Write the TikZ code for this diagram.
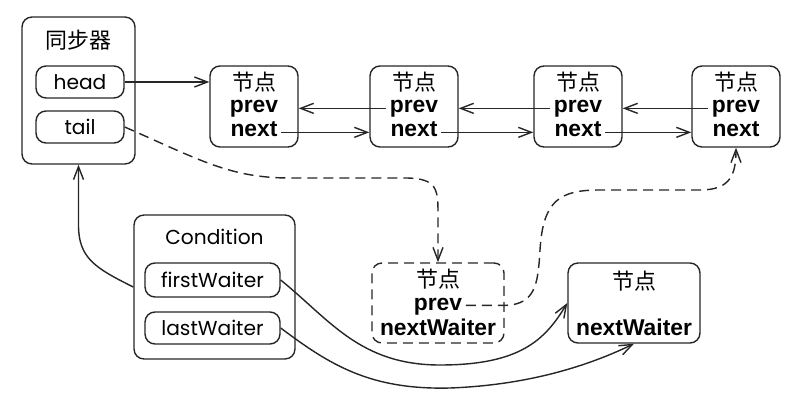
\documentclass[tikz,border=0pt]{standalone}
\usepackage{fontspec}
\setmainfont{Liberation Sans}
\newfontfamily\cjkfont{Noto Sans CJK SC}
\newfontfamily\geofont{Poppins}
\usetikzlibrary{shapes,arrows,arrows.meta,fit,positioning,calc}

\begin{document}
\begin{tikzpicture}[x=0.02cm,y=-0.02cm,% one unit is one pixel of the sketch
		every node/.style={
			align=center,	% so that "\\" works
			inner sep=0pt
		},
		box/.style={rectangle,rounded corners=2mm,draw=black!85,thick},
		wbox/.style={box,dash pattern=on 2mm off 1.2mm},
		hd/.style={font=\cjkfont\fontsize{12.5}{13}\selectfont},
		lbl/.style={font=\geofont\fontsize{11.5}{13}\selectfont},
		fld/.style={font=\bfseries\fontsize{13}{14}\selectfont,text height=1ex,text depth=0pt,anchor=base,inner xsep=2pt},
		wire/.style={->,thick,draw=black!85},
		dwire/.style={wire,dash pattern=on 2mm off 1.2mm},
		>={Straight Barb[length=2.6mm,width=2mm]}
	]
	\useasboundingbox (0,0) rectangle (812,402);
	% synchronizer with its two fields
	\node[box,minimum width=2.26cm,minimum height=2.94cm](S) at (78.5,90.5){};
	\node[hd](S0) at (78.5,40){同步器};
	\node[box,lbl,minimum width=1.76cm,minimum height=0.64cm](H) at (80,82){head};
	\node[box,lbl,minimum width=1.76cm,minimum height=0.64cm](T) at (80,127){tail};
	% the queue
	\foreach \i/\x in {1/254,2/414,3/578,4/736}{
		\node[box,minimum width=1.76cm,minimum height=1.62cm](N\i) at (\x,106.5){};
		\node[hd](L\i) at (\x,82){节点};
		\node[fld](P\i) at (\x,113){prev};
		\node[fld](X\i) at (\x,137){next};
	}
	\draw[wire] (H.east) -- (N1.west |- H.east);
	\foreach \i/\j in {1/2,2/3,3/4}{
		\draw[wire] (X\i.east) -- (N\j.west |- X\i.east);
		\draw[wire] (P\j.west) -- (N\i.east |- P\j.west);
	}
	% condition
	\node[box,minimum width=3.22cm,minimum height=2.88cm](C) at (214.5,287){};
	\node[lbl](C0) at (214.5,237){Condition};
	\node[box,lbl,minimum width=2.7cm,minimum height=0.68cm](F) at (212.5,280){firstWaiter};
	\node[box,lbl,minimum width=2.7cm,minimum height=0.64cm](LW) at (212.5,328){lastWaiter};
	% waiting nodes
	\node[wbox,minimum width=2.64cm,minimum height=1.6cm](W) at (438,303){};
	\node[hd](W0) at (438,279){节点};
	\node[fld](WP) at (438,310){prev};
	\node[fld](WX) at (438,335){nextWaiter};
	\node[box,minimum width=2.64cm,minimum height=1.6cm](R) at (634,303){};
	\node[hd](R0) at (634,281){节点};
	\node[fld](RX) at (634,335){nextWaiter};
	% links
	\draw[dwire] (T.east) .. controls (200,160) and (230,178) .. (290,178) -- (405,178) .. controls (438,178) and (438,190) .. (438,215) -- (W.north);
	\draw[dwire] (WP.east) -- ++(40,0) .. controls (535,304) and (538,285) .. (540,250) .. controls (543,200) and (560,190) .. (600,190) -- (700,190) .. controls (730,190) and (736,175) .. (N4.south);
	\draw[wire] (C.west) .. controls (95,268) and (78.5,258) .. (78.5,225) -- (S.south);
	\draw[wire] (F.east) .. controls (330,320) and (360,365) .. (440,365) .. controls (520,365) and (545,340) .. (R.west);
	\draw[wire] (LW.east) .. controls (330,365) and (370,390) .. (450,388) .. controls (530,385) and (590,365) .. (R.south);
\end{tikzpicture}
\end{document}
